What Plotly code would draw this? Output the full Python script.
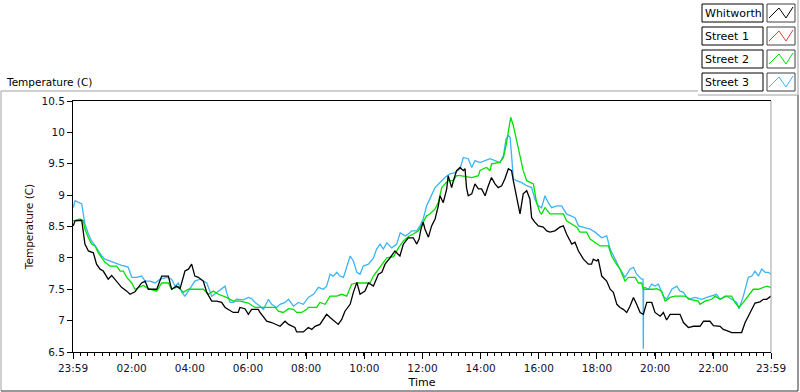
import plotly.graph_objects as go

# ---------------- data (hours after 23:59 start) ----------------
whit_t = [0.01, 0.07, 0.30, 0.355, 0.41, 0.53, 0.70, 0.81, 0.93, 1.04, 1.21, 1.33, 1.56, 1.67, 1.85, 1.96,
          2.13, 2.25, 2.36, 2.48, 2.59, 2.88, 3.05, 3.28, 3.39, 3.56, 3.68, 3.85, 3.97, 4.08, 4.19, 4.31,
          4.48, 4.60, 4.77, 4.94, 5.11, 5.23, 5.51, 5.68, 5.74, 5.91, 6.03, 6.14, 6.37, 6.43, 6.66, 6.83,
          7.00, 7.12, 7.29, 7.41, 7.63, 7.69, 7.92, 8.09, 8.21, 8.32, 8.49, 8.61, 8.72, 8.84, 9.01, 9.12,
          9.24, 9.35, 9.53, 9.64, 9.76, 9.87, 10.04, 10.16, 10.33, 10.50, 10.62, 10.73, 10.90, 11.07, 11.24,
          11.36, 11.53, 11.70, 11.82, 11.90, 11.96, 12.04, 12.10, 12.22, 12.33, 12.45, 12.56, 12.62, 12.73,
          12.85, 12.90, 13.02, 13.08, 13.19, 13.31, 13.42, 13.48, 13.53, 13.59, 13.71, 13.82, 13.94, 14.05,
          14.17, 14.28, 14.39, 14.51, 14.62, 14.74, 14.85, 14.97, 15.08, 15.14, 15.25, 15.37, 15.48, 15.60,
          15.71, 15.77, 15.88, 16.00, 16.17, 16.29, 16.40, 16.57, 16.74, 16.86, 16.97, 17.15, 17.26, 17.38,
          17.55, 17.72, 17.83, 17.89, 18.01, 18.06, 18.18, 18.35, 18.47, 18.58, 18.70, 18.81, 18.92, 19.04,
          19.15, 19.27, 19.38, 19.50, 19.61, 19.73, 19.90, 20.01, 20.19, 20.30, 20.41, 20.53, 20.87, 20.99,
          21.16, 21.33, 21.56, 21.68, 21.90, 22.02, 22.25, 22.36, 22.48, 22.65, 22.99, 23.11, 23.22, 23.34,
          23.45, 23.62, 23.74, 23.85, 24.00]
whit_v = [8.51, 8.59, 8.60, 8.40, 8.22, 8.11, 8.08, 7.90, 7.82, 7.79, 7.66, 7.72, 7.60, 7.53, 7.47, 7.42,
          7.46, 7.53, 7.60, 7.63, 7.50, 7.50, 7.71, 7.71, 7.50, 7.55, 7.51, 7.79, 7.82, 7.90, 7.71, 7.69,
          7.63, 7.45, 7.31, 7.31, 7.29, 7.21, 7.13, 7.13, 7.21, 7.19, 7.10, 7.18, 7.18, 7.13, 6.99, 6.97,
          6.94, 6.91, 6.99, 6.94, 6.89, 6.82, 6.82, 6.89, 6.86, 6.91, 6.94, 7.02, 7.10, 7.05, 6.99, 6.94,
          7.02, 7.15, 7.26, 7.45, 7.61, 7.42, 7.47, 7.60, 7.55, 7.74, 7.77, 7.90, 8.00, 8.11, 8.03,
          8.22, 8.32, 8.32, 8.22, 8.30, 8.45, 8.57, 8.46, 8.33, 8.51, 8.62, 8.83, 8.99, 8.88,
          9.10, 9.31, 9.12, 9.23, 9.39, 9.44, 9.39, 9.42, 9.12, 8.99, 9.02, 9.18, 9.10, 9.10,
          8.99, 9.15, 9.28, 9.18, 9.12, 9.15, 9.26, 9.42, 9.39, 9.23, 8.96, 8.70, 9.02, 9.07,
          8.94, 8.64, 8.57, 8.51, 8.49, 8.43, 8.41, 8.43, 8.49, 8.51, 8.38, 8.22, 8.25, 8.11,
          7.98, 7.90, 7.90, 7.98, 7.95, 7.98, 7.71, 7.63, 7.50, 7.45, 7.26, 7.21, 7.18, 7.13,
          7.23, 7.37, 7.26, 7.13, 7.10, 7.29, 7.29, 7.13, 7.07, 7.13, 7.01, 7.10, 7.10, 6.97,
          6.89, 6.91, 6.91, 6.99, 6.99, 6.92, 6.91, 6.86, 6.84, 6.81, 6.81, 6.97, 7.07, 7.18,
          7.28, 7.30, 7.34, 7.34, 7.39]

street1_t = []
street1_v = []

street2_t = [0.00, 0.24, 0.355, 0.41, 0.53, 0.64, 0.76, 0.87, 0.99, 1.10, 1.27, 1.50, 1.62, 1.73, 1.85, 2.02,
             2.13, 2.25, 2.42, 2.59, 2.88, 3.05, 3.28, 3.39, 3.62, 3.79, 3.97, 4.48, 4.65, 4.83, 5.00, 5.28,
             5.51, 5.74, 6.03, 6.26, 6.49, 6.95, 7.06, 7.23, 7.41, 7.58, 7.69, 7.86, 8.04, 8.09, 8.38, 8.49,
             8.67, 8.84, 9.07, 9.24, 9.41, 9.58, 9.76, 10.21, 10.33, 10.50, 10.62, 10.79, 11.02, 11.19, 11.36,
             11.53, 11.70, 11.88, 12.04, 12.16, 12.27, 12.45, 12.56, 12.68, 12.79, 12.90, 13.08, 13.19, 13.31,
             13.48, 13.71, 13.94, 13.99, 14.11, 14.22, 14.34, 14.39, 14.68, 14.80, 14.89, 14.97, 15.05, 15.14,
             15.25, 15.37, 15.48, 15.60, 15.71, 15.83, 15.94, 16.06, 16.11, 16.23, 16.40, 16.86, 16.97, 17.15,
             17.32, 17.43, 17.66, 17.78, 17.95, 18.12, 18.41, 18.52, 18.64, 18.81, 18.98, 19.10, 19.33, 19.44,
             19.55, 19.61, 19.96, 20.07, 20.24, 20.36, 20.53, 20.70, 21.05, 21.22, 21.50, 21.56, 21.73, 21.96,
             22.08, 22.25, 22.42, 22.65, 22.76, 22.90, 23.05, 23.22, 23.39, 23.57, 23.74, 23.85, 24.00]
street2_v = [8.59, 8.62, 8.59, 8.46, 8.32, 8.22, 8.19, 8.08, 8.00, 7.93, 7.87, 7.87, 7.79, 7.79, 7.69, 7.60,
             7.50, 7.53, 7.56, 7.51, 7.47, 7.60, 7.60, 7.50, 7.54, 7.45, 7.50, 7.50, 7.42, 7.47, 7.42, 7.37,
             7.31, 7.31, 7.28, 7.21, 7.21, 7.21, 7.15, 7.13, 7.19, 7.18, 7.13, 7.13, 7.18, 7.21, 7.21, 7.29,
             7.26, 7.39, 7.39, 7.42, 7.39, 7.58, 7.60, 7.60, 7.71, 7.82, 7.90, 8.00, 8.02, 8.16, 8.27,
             8.34, 8.38, 8.43, 8.57, 8.67, 8.70, 8.78, 8.88, 9.12, 9.18, 9.23, 9.23, 9.31, 9.31,
             9.30, 9.28, 9.31, 9.39, 9.42, 9.44, 9.39, 9.50, 9.52, 9.60, 9.79, 10.03, 10.24, 10.11,
             9.87, 9.60, 9.39, 9.23, 9.20, 9.18, 8.88, 8.72, 8.70, 8.80, 8.70, 8.70, 8.59, 8.54,
             8.49, 8.41, 8.41, 8.30, 8.25, 8.19, 8.19, 8.03, 7.93, 7.82, 7.63, 7.69, 7.69, 7.60,
             7.60, 7.50, 7.50, 7.51, 7.47, 7.31, 7.37, 7.39, 7.39, 7.34, 7.31, 7.26, 7.31, 7.34,
             7.39, 7.34, 7.39, 7.39, 7.29, 7.21, 7.29, 7.39, 7.50, 7.50, 7.53, 7.55, 7.53]

street3_t = [0.01, 0.07, 0.30, 0.355, 0.41, 0.53, 0.64, 0.81, 0.99, 1.10, 1.27, 1.50, 1.67, 1.79, 1.90, 2.02,
             2.19, 2.36, 2.48, 2.65, 2.82, 3.00, 3.22, 3.39, 3.51, 3.62, 3.74, 3.85, 4.02, 4.19, 4.37, 4.48,
             4.60, 4.77, 4.94, 5.11, 5.23, 5.28, 5.40, 5.51, 5.62, 5.86, 6.03, 6.14, 6.26, 6.43, 6.55, 6.72,
             6.83, 7.00, 7.12, 7.29, 7.41, 7.58, 7.75, 7.92, 8.09, 8.27, 8.44, 8.61, 8.72, 8.84, 8.95, 9.07,
             9.18, 9.30, 9.41, 9.53, 9.64, 9.76, 9.87, 9.98, 10.16, 10.33, 10.44, 10.56, 10.67, 10.79, 10.96,
             11.13, 11.25, 11.42, 11.53, 11.65, 11.82, 11.93, 12.04, 12.16, 12.27, 12.45, 12.62, 12.79, 12.96,
             13.13, 13.31, 13.42, 13.59, 13.71, 13.82, 13.99, 14.17, 14.34, 14.51, 14.68, 14.80, 14.89, 14.97,
             15.03, 15.08, 15.14, 15.25, 15.43, 15.60, 15.77, 15.88, 16.00, 16.11, 16.23, 16.34, 16.46, 16.63,
             16.80, 16.97, 17.15, 17.26, 17.38, 17.55, 17.78, 17.95, 18.18, 18.35, 18.47, 18.64, 18.81, 18.98,
             19.15, 19.27, 19.38, 19.55, 19.60, 19.61, 19.62, 19.67, 19.78, 19.90, 20.01, 20.13, 20.30, 20.41,
             20.59, 20.76, 20.87, 20.99, 21.16, 21.39, 21.62, 21.79, 21.96, 22.13, 22.25, 22.48, 22.65, 22.82,
             22.90, 23.05, 23.22, 23.34, 23.45, 23.57, 23.68, 23.80, 23.91, 24.00]
street3_v = [8.80, 8.91, 8.86, 8.70, 8.54, 8.38, 8.27, 8.16, 8.03, 7.98, 7.95, 7.90, 7.88, 7.87, 7.85, 7.69,
             7.69, 7.71, 7.63, 7.63, 7.60, 7.66, 7.69, 7.66, 7.55, 7.60, 7.45, 7.39, 7.50, 7.63, 7.66, 7.63,
             7.60, 7.39, 7.45, 7.50, 7.55, 7.45, 7.29, 7.29, 7.34, 7.33, 7.37, 7.35, 7.29, 7.23, 7.18, 7.34,
             7.26, 7.21, 7.26, 7.29, 7.34, 7.23, 7.29, 7.26, 7.37, 7.42, 7.53, 7.50, 7.55, 7.74, 7.71, 7.77,
             7.71, 7.69, 7.85, 8.03, 7.95, 7.77, 7.74, 7.87, 7.90, 8.00, 8.14, 8.22, 8.14, 8.24, 8.16,
             8.22, 8.40, 8.35, 8.38, 8.43, 8.43, 8.51, 8.62, 8.83, 8.94, 9.12, 9.20, 9.28, 9.34,
             9.36, 9.42, 9.60, 9.58, 9.44, 9.55, 9.52, 9.55, 9.58, 9.55, 9.52, 9.63, 9.89, 9.95,
             9.92, 9.63, 9.26, 9.23, 9.20, 9.15, 9.12, 8.94, 8.83, 8.80, 8.99, 8.88, 8.80, 8.83,
             8.83, 8.70, 8.67, 8.64, 8.51, 8.49, 8.46, 8.41, 8.32, 8.35, 8.14, 7.98, 7.82, 7.69,
             7.82, 7.85, 7.74, 7.66, 7.66, 6.55, 7.53, 7.53, 7.50, 7.58, 7.55, 7.58, 7.39, 7.34,
             7.50, 7.55, 7.47, 7.45, 7.34, 7.37, 7.34, 7.37, 7.39, 7.42, 7.34, 7.39, 7.34, 7.29,
             7.19, 7.39, 7.69, 7.71, 7.79, 7.71, 7.82, 7.77, 7.77, 7.74]

series_names = ["Whitworth", "Street 1", "Street 2", "Street 3"]
series_colors = ["#000000", "#ff3333", "#00e000", "#3cb4f5"]

x_tick_labels = ["23:59", "02:00", "04:00", "06:00", "08:00", "10:00", "12:00",
                 "14:00", "16:00", "18:00", "20:00", "22:00", "23:59"]
y_ticks = [6.5, 7, 7.5, 8, 8.5, 9, 9.5, 10, 10.5]


def label_to_hours(lbl, idx):
    h, m = map(int, lbl.split(":"))
    mins = (h * 60 + m - (23 * 60 + 59)) % 1440
    if idx == len(x_tick_labels) - 1:
        mins = 1440
    return mins / 60.0


x_tick_vals = [label_to_hours(l, i) for i, l in enumerate(x_tick_labels)]

# ---------------- figure ----------------
W, H = 800, 392
L, R, T, B = 73, 771, 101, 352


def px(x):
    return (x - L) / (R - L)


def py(y):
    return (B - y) / (B - T)


fig = go.Figure()
all_t = [whit_t, street1_t, street2_t, street3_t]
all_v = [whit_v, street1_v, street2_v, street3_v]
order = [1, 3, 2, 0]
for i in order:
    fig.add_trace(go.Scatter(x=all_t[i], y=all_v[i], mode="lines", name=series_names[i],
                             line=dict(color=series_colors[i], width=1.3),
                             showlegend=False, hoverinfo="skip"))

font_family = "DejaVu Sans"
shapes = []
gray = "#a0a0a0"
# outer frame
shapes.append(dict(type="line", xref="paper", yref="paper", x0=px(1), x1=px(698), y0=py(91), y1=py(91),
                   line=dict(color=gray, width=1)))
shapes.append(dict(type="line", xref="paper", yref="paper", x0=px(1), x1=px(1), y0=py(91), y1=py(391),
                   line=dict(color=gray, width=1)))
shapes.append(dict(type="line", xref="paper", yref="paper", x0=px(1), x1=px(798), y0=py(391), y1=py(391),
                   line=dict(color="#303030", width=1)))
shapes.append(dict(type="line", xref="paper", yref="paper", x0=px(798), x1=px(798), y0=py(95), y1=py(391),
                   line=dict(color="#303030", width=1)))
# legend panel
shapes.append(dict(type="line", xref="paper", yref="paper", x0=px(698), x1=px(798), y0=py(95), y1=py(95),
                   line=dict(color=gray, width=1)))
shapes.append(dict(type="line", xref="paper", yref="paper", x0=px(798), x1=px(798), y0=py(0), y1=py(95),
                   line=dict(color=gray, width=1)))
# right plot border (gray)
shapes.append(dict(type="line", xref="paper", yref="paper", x0=1, x1=1, y0=0, y1=1,
                   line=dict(color=gray, width=1)))

annotations = []
row_tops = [4, 27, 50, 73]
for name, color, rt in zip(series_names, series_colors, row_tops):
    shapes.append(dict(type="rect", xref="paper", yref="paper", x0=px(702), x1=px(763),
                       y0=py(rt + 18), y1=py(rt), line=dict(color="black", width=1)))
    shapes.append(dict(type="rect", xref="paper", yref="paper", x0=px(767), x1=px(795),
                       y0=py(rt + 18), y1=py(rt), line=dict(color="#404040", width=1)))
    pts = [(769, rt + 14), (779, rt + 4), (786, rt + 14), (793, rt + 3)]
    path = "M " + " L ".join(f"{px(a):.5f},{py(b):.5f}" for a, b in pts)
    shapes.append(dict(type="path", xref="paper", yref="paper", path=path,
                       line=dict(color=color, width=1)))
    annotations.append(dict(text=name, xref="paper", yref="paper", x=px(703), y=py(rt + 9.5),
                            xanchor="left", yanchor="middle", showarrow=False,
                            font=dict(family=font_family, size=11, color="black")))

annotations.append(dict(text="Temperature (C)", xref="paper", yref="paper", x=px(4), y=py(82),
                        xanchor="left", yanchor="middle", showarrow=False,
                        font=dict(family=font_family, size=10.5, color="black")))

fig.update_layout(
    width=W, height=H, autosize=False,
    margin=dict(l=L, r=W - R, t=T, b=H - B, pad=0),
    paper_bgcolor="white", plot_bgcolor="white",
    font=dict(family=font_family, size=10, color="#101030"),
    shapes=shapes, annotations=annotations,
    xaxis=dict(range=[0, 24], tickmode="array", tickvals=x_tick_vals, ticktext=x_tick_labels,
               ticks="outside", ticklen=6, tickcolor="black", tickwidth=1,
               tickfont=dict(size=10.5),
               minor=dict(dtick=0.25, tick0=0, ticks="outside", ticklen=3, tickcolor="black", showgrid=False),
               showline=True, linecolor="black", linewidth=1, mirror=True,
               showgrid=False, zeroline=False, automargin=False,
               title=dict(text="Time", standoff=5, font=dict(size=11, color="black"))),
    yaxis=dict(range=[6.5, 10.5], tickmode="array", tickvals=y_ticks,
               ticktext=[f"{v:g}" for v in y_ticks],
               ticks="outside", ticklen=5, tickcolor="black", tickwidth=1,
               tickfont=dict(size=10.5),
               showline=True, linecolor="black", linewidth=1,
               showgrid=False, zeroline=False, automargin=False,
               title=dict(text="Temperature (C)", standoff=5, font=dict(size=10.5, color="#3a0000"))),
)

fig.write_html("out.html", config={"displayModeBar": False},
               post_script="document.body.style.margin='0';document.body.style.padding='0';"
                           "document.body.style.overflow='hidden';")
